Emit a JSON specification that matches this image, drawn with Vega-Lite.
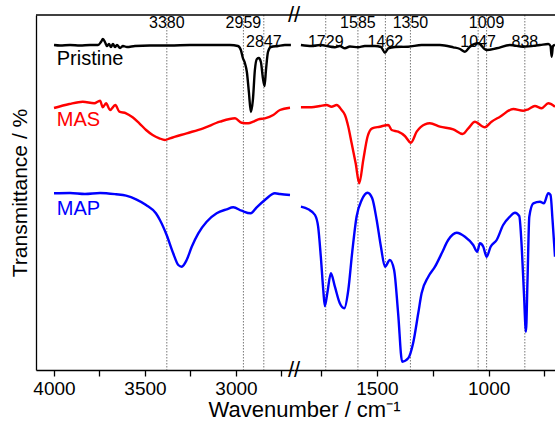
{
  "$schema": "https://vega.github.io/schema/vega-lite/v6.json",
  "padding": {"left": 9, "top": 4, "right": 0, "bottom": 0},
  "background": "white",
  "spacing": 0,
  "bounds": "flush",
  "config": {
    "font": "Liberation Sans",
    "view": {"stroke": null},
    "axis": {"grid": false, "domainColor": "black", "tickColor": "black", "labelColor": "black", "titleColor": "black", "titleFontWeight": "normal", "labelFont": "Liberation Sans", "titleFont": "Liberation Sans", "domainWidth": 1.3, "tickWidth": 1.3}
  },
  "datasets": {
    "spectra": [
      {"s":"Pristine","w":4000,"t":325},{"s":"Pristine","w":3967,"t":324.5},{"s":"Pristine","w":3912,"t":325},{"s":"Pristine","w":3857,"t":324.5},{"s":"Pristine","w":3802,"t":325},{"s":"Pristine","w":3758,"t":325},{"s":"Pristine","w":3742,"t":328},{"s":"Pristine","w":3731,"t":331},{"s":"Pristine","w":3720,"t":328},{"s":"Pristine","w":3709,"t":324},{"s":"Pristine","w":3698,"t":326},{"s":"Pristine","w":3687,"t":323},{"s":"Pristine","w":3676,"t":326},{"s":"Pristine","w":3665,"t":323},{"s":"Pristine","w":3654,"t":325},{"s":"Pristine","w":3637,"t":322},{"s":"Pristine","w":3621,"t":324},{"s":"Pristine","w":3599,"t":323},{"s":"Pristine","w":3555,"t":324},{"s":"Pristine","w":3473,"t":324.5},{"s":"Pristine","w":3363,"t":324.5},{"s":"Pristine","w":3253,"t":325},{"s":"Pristine","w":3143,"t":325},{"s":"Pristine","w":3033,"t":325},{"s":"Pristine","w":2989,"t":324},{"s":"Pristine","w":2973,"t":320},{"s":"Pristine","w":2962,"t":312},{"s":"Pristine","w":2951,"t":307},{"s":"Pristine","w":2940,"t":298},{"s":"Pristine","w":2929,"t":278},{"s":"Pristine","w":2918,"t":258},{"s":"Pristine","w":2907,"t":270},{"s":"Pristine","w":2896,"t":300},{"s":"Pristine","w":2885,"t":311},{"s":"Pristine","w":2874,"t":312},{"s":"Pristine","w":2863,"t":308},{"s":"Pristine","w":2852,"t":292},{"s":"Pristine","w":2843,"t":284},{"s":"Pristine","w":2835,"t":300},{"s":"Pristine","w":2824,"t":318},{"s":"Pristine","w":2808,"t":323},{"s":"Pristine","w":2769,"t":324},{"s":"Pristine","w":2731,"t":325},{"s":"Pristine","w":2698,"t":325},
      {"s":"Pristine","w":1840,"t":325},{"s":"Pristine","w":1792,"t":324},{"s":"Pristine","w":1755,"t":325},{"s":"Pristine","w":1688,"t":322.7},{"s":"Pristine","w":1666,"t":324},{"s":"Pristine","w":1643,"t":321.7},{"s":"Pristine","w":1621,"t":323.5},{"s":"Pristine","w":1585,"t":322.7},{"s":"Pristine","w":1554,"t":324},{"s":"Pristine","w":1509,"t":324},{"s":"Pristine","w":1482,"t":323},{"s":"Pristine","w":1464,"t":317.3},{"s":"Pristine","w":1449,"t":321.7},{"s":"Pristine","w":1419,"t":323},{"s":"Pristine","w":1360,"t":323.3},{"s":"Pristine","w":1300,"t":325},{"s":"Pristine","w":1218,"t":325},{"s":"Pristine","w":1158,"t":322.7},{"s":"Pristine","w":1128,"t":321},{"s":"Pristine","w":1106,"t":318.3},{"s":"Pristine","w":1084,"t":323.3},{"s":"Pristine","w":1047,"t":326.7},{"s":"Pristine","w":1009,"t":320},{"s":"Pristine","w":964,"t":321.7},{"s":"Pristine","w":905,"t":325},{"s":"Pristine","w":845,"t":323.3},{"s":"Pristine","w":770,"t":325},{"s":"Pristine","w":733,"t":326},{"s":"Pristine","w":723,"t":324},{"s":"Pristine","w":718,"t":313.3},{"s":"Pristine","w":712,"t":324},{"s":"Pristine","w":703,"t":325},
      {"s":"MAS","w":4000,"t":262},{"s":"MAS","w":3916,"t":266},{"s":"MAS","w":3842,"t":268.3},{"s":"MAS","w":3779,"t":266.7},{"s":"MAS","w":3747,"t":269.3},{"s":"MAS","w":3732,"t":262.7},{"s":"MAS","w":3714,"t":266.7},{"s":"MAS","w":3692,"t":260},{"s":"MAS","w":3663,"t":265},{"s":"MAS","w":3641,"t":258.3},{"s":"MAS","w":3604,"t":256.7},{"s":"MAS","w":3568,"t":252.7},{"s":"MAS","w":3531,"t":246.7},{"s":"MAS","w":3494,"t":240},{"s":"MAS","w":3458,"t":235},{"s":"MAS","w":3421,"t":231.7},{"s":"MAS","w":3390,"t":230},{"s":"MAS","w":3363,"t":231.7},{"s":"MAS","w":3271,"t":236.7},{"s":"MAS","w":3180,"t":241.7},{"s":"MAS","w":3088,"t":248.3},{"s":"MAS","w":3005,"t":251.7},{"s":"MAS","w":2969,"t":247.3},{"s":"MAS","w":2932,"t":246.7},{"s":"MAS","w":2905,"t":248.3},{"s":"MAS","w":2877,"t":250.7},{"s":"MAS","w":2841,"t":251.7},{"s":"MAS","w":2795,"t":255},{"s":"MAS","w":2758,"t":260},{"s":"MAS","w":2703,"t":262.3},
      {"s":"MAS","w":1840,"t":262.7},{"s":"MAS","w":1792,"t":262.7},{"s":"MAS","w":1755,"t":264},{"s":"MAS","w":1725,"t":265},{"s":"MAS","w":1703,"t":263.3},{"s":"MAS","w":1680,"t":265},{"s":"MAS","w":1658,"t":260},{"s":"MAS","w":1643,"t":255},{"s":"MAS","w":1628,"t":243.3},{"s":"MAS","w":1613,"t":226.7},{"s":"MAS","w":1595,"t":206.7},{"s":"MAS","w":1579,"t":186.7},{"s":"MAS","w":1561,"t":210},{"s":"MAS","w":1542,"t":233.3},{"s":"MAS","w":1521,"t":241.7},{"s":"MAS","w":1487,"t":243.3},{"s":"MAS","w":1449,"t":245},{"s":"MAS","w":1434,"t":240},{"s":"MAS","w":1405,"t":238.3},{"s":"MAS","w":1375,"t":234},{"s":"MAS","w":1348,"t":227.3},{"s":"MAS","w":1322,"t":238.3},{"s":"MAS","w":1285,"t":245.7},{"s":"MAS","w":1263,"t":246.7},{"s":"MAS","w":1218,"t":243.3},{"s":"MAS","w":1158,"t":240.7},{"s":"MAS","w":1116,"t":236},{"s":"MAS","w":1091,"t":241.7},{"s":"MAS","w":1061,"t":248.3},{"s":"MAS","w":1031,"t":244},{"s":"MAS","w":1017,"t":242.7},{"s":"MAS","w":987,"t":248.3},{"s":"MAS","w":949,"t":253.3},{"s":"MAS","w":890,"t":261},{"s":"MAS","w":845,"t":259.3},{"s":"MAS","w":823,"t":260.7},{"s":"MAS","w":793,"t":264},{"s":"MAS","w":763,"t":261.7},{"s":"MAS","w":733,"t":266.7},{"s":"MAS","w":703,"t":263.3},
      {"s":"MAP","w":4000,"t":176.7},{"s":"MAP","w":3912,"t":177},{"s":"MAP","w":3830,"t":176},{"s":"MAP","w":3747,"t":177},{"s":"MAP","w":3659,"t":175.7},{"s":"MAP","w":3604,"t":174.3},{"s":"MAP","w":3549,"t":170.7},{"s":"MAP","w":3494,"t":165},{"s":"MAP","w":3440,"t":156.7},{"s":"MAP","w":3418,"t":150},{"s":"MAP","w":3381,"t":135},{"s":"MAP","w":3345,"t":116.7},{"s":"MAP","w":3317,"t":105},{"s":"MAP","w":3298,"t":103.3},{"s":"MAP","w":3271,"t":110},{"s":"MAP","w":3243,"t":123.3},{"s":"MAP","w":3207,"t":136.7},{"s":"MAP","w":3161,"t":148.3},{"s":"MAP","w":3106,"t":156.7},{"s":"MAP","w":3051,"t":160.7},{"s":"MAP","w":3015,"t":162.7},{"s":"MAP","w":2969,"t":159.3},{"s":"MAP","w":2919,"t":156.7},{"s":"MAP","w":2886,"t":162.7},{"s":"MAP","w":2841,"t":170},{"s":"MAP","w":2786,"t":176.7},{"s":"MAP","w":2758,"t":176},{"s":"MAP","w":2703,"t":175},
      {"s":"MAP","w":1840,"t":163.3},{"s":"MAP","w":1807,"t":160.7},{"s":"MAP","w":1777,"t":155},{"s":"MAP","w":1763,"t":143.3},{"s":"MAP","w":1751,"t":113.3},{"s":"MAP","w":1740,"t":80},{"s":"MAP","w":1733,"t":64},{"s":"MAP","w":1722,"t":76.7},{"s":"MAP","w":1706,"t":96.7},{"s":"MAP","w":1688,"t":83.3},{"s":"MAP","w":1666,"t":66.7},{"s":"MAP","w":1646,"t":61.7},{"s":"MAP","w":1628,"t":80},{"s":"MAP","w":1611,"t":116.7},{"s":"MAP","w":1591,"t":153.3},{"s":"MAP","w":1568,"t":170},{"s":"MAP","w":1542,"t":177.3},{"s":"MAP","w":1521,"t":171.7},{"s":"MAP","w":1501,"t":150},{"s":"MAP","w":1482,"t":123.3},{"s":"MAP","w":1464,"t":103.3},{"s":"MAP","w":1442,"t":110},{"s":"MAP","w":1423,"t":100},{"s":"MAP","w":1405,"t":56.7},{"s":"MAP","w":1387,"t":8.3},{"s":"MAP","w":1360,"t":11.7},{"s":"MAP","w":1338,"t":26.7},{"s":"MAP","w":1315,"t":56.7},{"s":"MAP","w":1300,"t":76.7},{"s":"MAP","w":1270,"t":93.3},{"s":"MAP","w":1240,"t":103.3},{"s":"MAP","w":1210,"t":116.7},{"s":"MAP","w":1181,"t":130},{"s":"MAP","w":1143,"t":137.3},{"s":"MAP","w":1106,"t":133.3},{"s":"MAP","w":1069,"t":125},{"s":"MAP","w":1051,"t":118.3},{"s":"MAP","w":1039,"t":126.7},{"s":"MAP","w":1024,"t":123.3},{"s":"MAP","w":1009,"t":113.3},{"s":"MAP","w":991,"t":123.3},{"s":"MAP","w":964,"t":130},{"s":"MAP","w":935,"t":145},{"s":"MAP","w":905,"t":153.3},{"s":"MAP","w":882,"t":157.3},{"s":"MAP","w":863,"t":154},{"s":"MAP","w":852,"t":123.3},{"s":"MAP","w":842,"t":76.7},{"s":"MAP","w":833,"t":38.3},{"s":"MAP","w":826,"t":90},{"s":"MAP","w":818,"t":153.3},{"s":"MAP","w":800,"t":166.7},{"s":"MAP","w":770,"t":168.3},{"s":"MAP","w":753,"t":166.7},{"s":"MAP","w":733,"t":176.7},{"s":"MAP","w":723,"t":175},{"s":"MAP","w":714,"t":150},{"s":"MAP","w":703,"t":113.3}
    ],
    "peaks": [
      {"w":3380,"ly":342},{"w":2959,"ly":342},{"w":2847,"ly":323},
      {"w":1729,"ly":323},{"w":1585,"ly":342},{"w":1462,"ly":323},{"w":1350,"ly":342},{"w":1047,"ly":323},{"w":1009,"ly":342},{"w":838,"ly":323}
    ],
    "names": [
      {"s":"Pristine","w":3985,"t":305},{"s":"MAS","w":3985,"t":244},{"s":"MAP","w":3985,"t":155}
    ]
  },
  "hconcat": [
    {
      "width": 258,
      "height": 355,
      "layer": [
        {
          "data": {"name": "peaks"},
          "transform": [{"filter": "datum.w > 2000"}],
          "mark": {"type": "rule", "color": "#777777", "strokeWidth": 1, "strokeDash": [1.5, 1.5]},
          "encoding": {
            "x": {"field": "w", "type": "quantitative", "scale": {"domain": [2681, 4099], "reverse": true, "nice": false, "zero": false},
              "axis": {"values": [4000, 3750, 3500, 3250, 3000, 2750], "format": "d", "labelExpr": "datum.value % 500 === 0 ? datum.label : ''", "labelFontSize": 19, "tickSize": 6, "labelPadding": 3, "title": "Wavenumber / cm⁻¹", "titleFontSize": 22, "titleX": 268, "titleAlign": "center", "titlePadding": 1}}
          }
        },
        {
          "data": {"name": "peaks"},
          "transform": [{"filter": "datum.w > 2000"}],
          "mark": {"type": "text", "fontSize": 16, "align": "center", "baseline": "alphabetic", "color": "black"},
          "encoding": {
            "x": {"field": "w", "type": "quantitative"},
            "y": {"field": "ly", "type": "quantitative", "scale": {"domain": [0, 355], "nice": false, "zero": false},
              "axis": {"labels": false, "ticks": false, "title": "Transmittance / %", "titleFontSize": 21, "titlePadding": 6}},
            "text": {"field": "w", "type": "quantitative", "format": "d"}
          }
        },
        {
          "data": {"name": "spectra"},
          "transform": [{"filter": "datum.w > 2000"}],
          "mark": {"type": "line", "strokeWidth": 2.4, "interpolate": "monotone"},
          "encoding": {
            "x": {"field": "w", "type": "quantitative"},
            "y": {"field": "t", "type": "quantitative"},
            "color": {"field": "s", "type": "nominal", "scale": {"domain": ["Pristine", "MAS", "MAP"], "range": ["#000000", "#ff0000", "#0000ff"]}, "legend": null}
          }
        },
        {
          "data": {"name": "names"},
          "mark": {"type": "text", "fontSize": 20, "align": "left", "baseline": "alphabetic"},
          "encoding": {
            "x": {"field": "w", "type": "quantitative"},
            "y": {"field": "t", "type": "quantitative"},
            "text": {"field": "s"},
            "color": {"field": "s", "type": "nominal", "legend": null}
          }
        },
        {
          "data": {"values": [{}]},
          "mark": {"type": "rule", "color": "black", "strokeWidth": 1.3},
          "encoding": {"y": {"datum": 355}}
        },
        {
          "data": {"values": [{}]},
          "mark": {"type": "text", "text": "//", "fontSize": 22, "align": "center", "baseline": "middle", "color": "black"},
          "encoding": {"x": {"datum": 2681}, "y": {"datum": 355}}
        },
        {
          "data": {"values": [{}]},
          "mark": {"type": "text", "text": "//", "fontSize": 22, "align": "center", "baseline": "middle", "color": "black"},
          "encoding": {"x": {"datum": 2681}, "y": {"datum": 0}}
        }
      ]
    },
    {
      "width": 261,
      "height": 355,
      "layer": [
        {
          "data": {"name": "peaks"},
          "transform": [{"filter": "datum.w < 2000"}],
          "mark": {"type": "rule", "color": "#777777", "strokeWidth": 1, "strokeDash": [1.5, 1.5]},
          "encoding": {
            "x": {"field": "w", "type": "quantitative", "scale": {"domain": [703, 1871], "reverse": true, "nice": false, "zero": false},
              "axis": {"values": [1750, 1500, 1250, 1000, 750], "format": "d", "labelExpr": "datum.value % 500 === 0 ? datum.label : ''", "labelFontSize": 19, "tickSize": 6, "labelPadding": 3, "title": null}}
          }
        },
        {
          "data": {"name": "peaks"},
          "transform": [{"filter": "datum.w < 2000"}],
          "mark": {"type": "text", "fontSize": 16, "align": "center", "baseline": "alphabetic", "color": "black"},
          "encoding": {
            "x": {"field": "w", "type": "quantitative"},
            "y": {"field": "ly", "type": "quantitative", "scale": {"domain": [0, 355], "nice": false, "zero": false}, "axis": null},
            "text": {"field": "w", "type": "quantitative", "format": "d"}
          }
        },
        {
          "data": {"name": "spectra"},
          "transform": [{"filter": "datum.w < 2000"}],
          "mark": {"type": "line", "strokeWidth": 2.4, "interpolate": "monotone"},
          "encoding": {
            "x": {"field": "w", "type": "quantitative"},
            "y": {"field": "t", "type": "quantitative"},
            "color": {"field": "s", "type": "nominal", "scale": {"domain": ["Pristine", "MAS", "MAP"], "range": ["#000000", "#ff0000", "#0000ff"]}, "legend": null}
          }
        },
        {
          "data": {"values": [{}]},
          "mark": {"type": "rule", "color": "black", "strokeWidth": 1.3},
          "encoding": {"y": {"datum": 355}}
        }
      ]
    }
  ]
}
